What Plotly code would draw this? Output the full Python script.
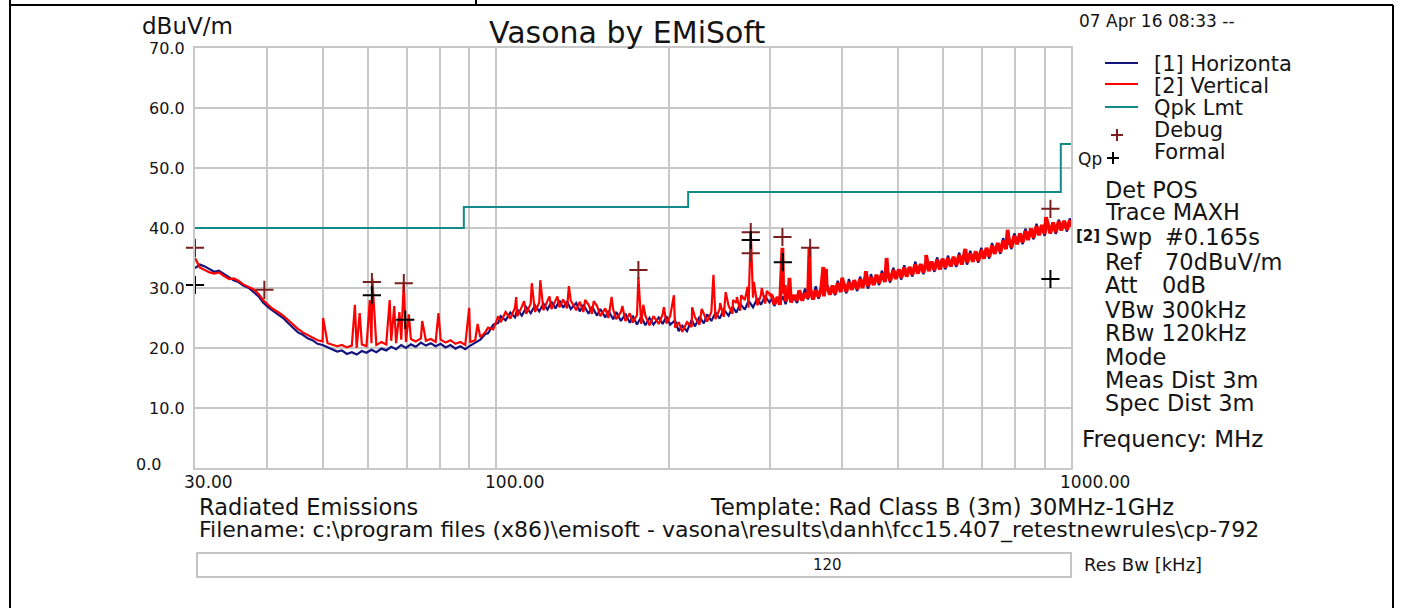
import math
import plotly.graph_objects as go

# ---------------- data ----------------
freq_low_mhz = [
    30.0, 30.6, 31.2, 31.8, 32.4, 33.0, 33.7, 34.4, 35.0, 35.7,
    36.4, 37.2, 37.9, 38.7, 39.4, 40.2, 41.0, 41.8, 42.7, 43.5,
    44.4, 45.3, 46.2, 47.1, 48.0, 49.0, 50.0, 51.0, 52.0, 53.0,
    54.0, 55.1, 56.2, 57.3, 58.5, 59.6, 60.8, 62.0, 63.3, 64.5,
    65.8, 67.1, 68.5, 69.8, 71.2, 72.6, 74.1, 75.6, 77.1, 78.6,
    80.2, 81.8, 83.4, 85.1, 86.8, 88.5, 90.3, 92.1, 94.0, 95.8,
]
horizontal_low_dbuv = [
    33.3, 33.9, 33.6, 33.1, 32.7, 32.9, 32.3, 31.8, 31.3, 31.0,
    30.4, 30.0, 29.4, 28.6, 27.6, 26.8, 26.2, 25.7, 25.0, 24.2,
    23.4, 22.6, 22.2, 21.6, 21.3, 20.7, 20.5, 20.1, 19.8, 19.4,
    19.6, 19.0, 19.3, 18.9, 19.5, 19.2, 19.7, 19.3, 19.9, 19.6,
    20.2, 19.8, 20.5, 20.0, 20.6, 20.2, 20.9, 20.4, 20.8, 20.3,
    20.7, 20.1, 20.5, 19.9, 20.3, 19.8, 20.4, 20.9, 21.4, 22.3,
]
vertical_low_dbuv = [
    35.0, 33.4, 33.0, 32.6, 32.4, 32.6, 32.0, 31.5, 31.6, 31.2,
    30.6, 30.2, 29.8, 29.0, 28.0, 27.2, 26.5, 26.0, 25.4, 24.7,
    23.9, 23.2, 22.6, 22.2, 21.8, 21.3, 21.1, 20.8, 20.6, 20.3,
    20.5, 20.1, 20.4, 20.0, 20.6, 20.3, 20.8, 20.5, 21.0, 20.6,
    21.2, 20.8, 21.4, 21.0, 21.5, 21.1, 21.6, 21.2, 21.5, 21.0,
    21.4, 20.9, 21.3, 20.7, 21.0, 20.5, 21.0, 21.3, 21.8, 22.6,
]

freq_mid_mhz = [
    97, 99, 101, 102, 104, 106, 108, 109, 111, 113,
    115, 117, 119, 121, 123, 125, 127, 129, 131, 133,
    135, 138, 140, 142, 145, 147, 150, 152, 155, 157,
    160, 162, 165, 168, 171, 173, 176, 179, 182, 185,
    188, 192, 195, 198, 201, 205, 208, 211, 215, 219,
    222, 226, 230, 233, 237, 241, 245, 249, 254, 258,
    262, 266, 271, 275, 280, 285, 289, 294, 299,
]
horizontal_mid_dbuv = [
    22.5, 23.9, 24.2, 25.3, 24.6, 25.9, 25.1, 26.4, 25.4, 26.8,
    25.8, 27.1, 26.1, 27.4, 26.4, 27.7, 26.6, 27.9, 26.7, 27.8,
    26.5, 27.5, 26.1, 27.2, 25.7, 26.9, 25.4, 26.5, 25.1, 26.2,
    24.8, 26.0, 24.5, 25.7, 24.2, 25.4, 23.9, 25.2, 23.8, 25.0,
    23.9, 25.1, 24.0, 25.3, 23.9, 24.6, 22.8, 23.7, 22.8, 24.7,
    23.6, 25.2, 24.1, 25.6, 24.5, 25.9, 24.9, 26.4, 25.4, 26.9,
    25.9, 27.4, 26.4, 27.9, 26.8, 28.3, 27.2, 28.6, 27.6,
]
vertical_mid_dbuv = [
    23.4, 23.1, 25.3, 24.3, 26.0, 24.9, 26.7, 25.3, 26.9, 25.7,
    27.4, 26.0, 27.6, 26.3, 27.9, 26.5, 28.0, 26.8, 28.1, 26.6,
    27.9, 26.3, 27.7, 26.0, 27.2, 25.7, 27.0, 25.3, 26.6, 25.0,
    26.4, 24.8, 26.0, 24.5, 25.8, 24.2, 25.5, 24.0, 25.4, 23.8,
    25.3, 24.0, 25.6, 24.1, 25.3, 23.4, 24.3, 22.7, 24.3, 23.5,
    25.1, 23.9, 25.7, 24.4, 26.0, 24.8, 26.5, 25.2, 27.0, 25.7,
    27.5, 26.2, 28.0, 26.7, 28.4, 27.1, 28.8, 27.4, 29.0,
]

freq_high_mhz = [
    302, 305, 309, 312, 316, 319, 323, 326, 330, 334,
    337, 341, 345, 349, 352, 356, 360, 364, 368, 372,
    376, 381, 385, 389, 393, 398, 402, 407, 411, 416,
    420, 425, 430, 434, 439, 444, 449, 454, 459, 464,
    469, 475, 480, 485, 491, 496, 502, 507, 513, 518,
    524, 530, 536, 542, 548, 554, 560, 566, 572, 579,
    585, 592, 598, 605, 611, 618, 625, 632, 639, 646,
    653, 660, 668, 675, 683, 690, 698, 706, 713, 721,
    729, 737, 746, 754, 762, 771, 779, 788, 797, 806,
    815, 824, 833, 842, 852, 861, 871, 880, 890, 900,
    910, 920, 931, 941, 952, 962, 973, 984, 995, 1000,
]
horizontal_high_dbuv = [
    28.2, 27.0, 28.4, 27.6, 28.6, 27.3, 29.4, 28.0, 28.4, 27.5,
    28.9, 28.4, 29.9, 28.1, 29.3, 28.5, 30.3, 28.2, 29.6, 29.0,
    30.8, 29.2, 30.1, 28.8, 31.2, 29.6, 30.5, 29.1, 31.5, 30.0,
    30.8, 29.5, 31.9, 30.4, 31.3, 29.9, 32.3, 30.9, 31.7, 30.5,
    32.9, 31.4, 32.2, 30.9, 33.4, 31.9, 32.7, 31.4, 33.8, 32.3,
    33.1, 31.9, 34.4, 32.8, 33.7, 32.3, 34.8, 33.2, 34.0, 32.7,
    35.1, 33.6, 34.5, 33.1, 35.4, 34.0, 34.8, 33.5, 35.9, 34.4,
    35.2, 33.9, 36.2, 34.9, 35.6, 34.2, 36.7, 35.3, 36.3, 34.9,
    37.5, 36.1, 37.0, 35.7, 38.3, 36.9, 37.8, 36.5, 39.1, 37.7,
    38.6, 37.3, 39.9, 38.4, 39.4, 38.1, 40.7, 39.2, 40.0, 38.7,
    41.1, 39.6, 40.4, 39.0, 41.4, 40.0, 40.8, 39.4, 41.6, 41.0,
]
vertical_high_dbuv = [
    28.7, 27.3, 28.5, 27.2, 29.1, 27.8, 29.0, 27.6, 28.8, 27.9,
    29.6, 27.9, 29.2, 28.3, 29.9, 28.1, 29.6, 28.5, 30.0, 28.6,
    30.3, 28.9, 30.4, 29.0, 30.8, 29.3, 30.9, 29.4, 31.0, 29.7,
    31.3, 29.8, 31.5, 30.0, 31.9, 30.3, 31.8, 30.5, 32.2, 30.8,
    32.4, 31.0, 32.6, 31.2, 33.0, 31.5, 33.1, 31.7, 33.4, 31.9,
    33.5, 32.2, 33.9, 32.4, 34.0, 32.6, 34.3, 32.8, 34.4, 33.0,
    34.7, 33.1, 34.9, 33.4, 35.0, 33.6, 35.2, 33.8, 35.5, 33.9,
    35.6, 34.2, 35.8, 34.4, 36.1, 34.5, 36.3, 34.9, 36.7, 35.2,
    37.1, 35.7, 37.5, 36.0, 37.9, 36.5, 38.3, 36.8, 38.7, 37.3,
    39.1, 37.6, 39.5, 38.0, 39.9, 38.4, 40.3, 38.8, 40.5, 39.0,
    40.7, 39.1, 40.9, 39.3, 41.1, 39.6, 41.2, 39.7, 41.3, 40.2,
]

# narrow emission spikes of the vertical sweep
vertical_spike_mhz = [
    50.1, 56.9, 58.0, 60.4, 61.0, 65.4, 66.6, 68.0, 69.2, 70.6, 74.5, 79.5, 89.9, 93.0,
    108.5, 112.0, 115.5, 119.5, 124.0, 128.0, 134.0, 143.0, 148.0, 159.0, 166.0, 177.0,
    180.5, 196.0, 204.0, 219.5, 228.0, 239.0, 245.5, 251.0, 258.5, 262.5, 267.0, 274.0,
    277.5, 281.0, 290.0, 296.0,
    315.0, 318.0, 324.0, 351.0, 371.0, 375.0, 400.0, 440.0, 478.0, 560.0, 655.0, 776.0, 905.0,
]
vertical_spike_dbuv = [
    25.0, 27.2, 25.8, 28.0, 31.6, 28.0, 27.0, 26.0, 31.0, 25.6, 24.5, 25.8, 26.7, 24.0,
    28.5, 27.8, 30.8, 31.3, 28.6, 28.6, 30.3, 28.0, 27.8, 28.5, 27.0, 31.8,
    27.2, 26.8, 28.8, 26.8, 26.5, 32.2, 27.5, 29.3, 28.0, 28.5, 28.8, 30.2,
    39.5, 31.0, 30.0, 29.5,
    36.7, 30.5, 31.7, 36.7, 33.5, 33.2, 31.7, 32.8, 35.0, 35.5, 36.5, 39.7, 41.8,
]

# quasi-peak limit (FCC class B, 3 m)
limit_mhz = [30, 88, 216, 960, 1000]
limit_dbuv = [40, 43.5, 46, 54, 54]

# marked peaks
debug_mhz = [30.0, 39.6, 60.9, 69.2, 177.0, 277.5, 277.5, 315.0, 352.0, 921.0]
debug_dbuv = [36.7, 29.7, 31.0, 30.8, 33.0, 39.3, 35.8, 38.5, 36.7, 43.2]
formal_mhz = [30.0, 60.9, 69.6, 277.5, 315.5, 921.0]
formal_dbuv = [30.5, 28.8, 24.7, 38.0, 34.3, 31.5]

# axes
x_grid_mhz = [30, 40, 50, 60, 70, 80, 90, 100, 200, 300, 400, 500, 600, 700, 800, 900, 1000]
x_label_mhz = [30, 100, 1000]
x_label_text = ["30.00", "100.00", "1000.00"]
y_ticks = [0, 10, 20, 30, 40, 50, 60, 70]
y_tick_text = ["0.0", "10.0", "20.0", "30.0", "40.0", "50.0", "60.0", "70.0"]

settings_labels = ["Det POS", "Trace MAXH", "Swp", "Ref", "Att", "VBw 300kHz", "RBw 120kHz",
                   "Mode", "Meas Dist 3m", "Spec Dist 3m"]
settings_values = ["", "", "#0.165s", "70dBuV/m", "0dB", "", "", "", "", ""]

# ---------------- build ----------------
freq_mhz = freq_low_mhz + freq_mid_mhz + freq_high_mhz
horizontal_dbuv = horizontal_low_dbuv + horizontal_mid_dbuv + horizontal_high_dbuv
vertical_dbuv = vertical_low_dbuv + vertical_mid_dbuv + vertical_high_dbuv
assert len(freq_mhz) == len(horizontal_dbuv) == len(vertical_dbuv), (
    len(freq_mhz), len(horizontal_dbuv), len(vertical_dbuv))
assert len(vertical_spike_mhz) == len(vertical_spike_dbuv), (
    len(vertical_spike_mhz), len(vertical_spike_dbuv))

v_pairs = sorted(zip(freq_mhz + vertical_spike_mhz, vertical_dbuv + vertical_spike_dbuv))
# the dense upper band (>= 300 MHz) is drawn with a heavier stroke
split = next(i for i, p in enumerate(v_pairs) if p[0] >= 300)
v_low = v_pairs[:split]
v_high = v_pairs[split - 1:]

W, H = 1401, 608
PL, PR, PT, PB = 195, 1071, 48, 468


def px(x):
    return (x - PL) / (PR - PL)


def py(y):
    return (PB - y) / (PB - PT)


FONT = "DejaVu Sans"
TXT = "#141414"
GRID = "#c8c8c8"
BLUE = "#14147e"
RED = "#ff0000"
TEAL = "#138a8a"
DEBUG = "#7a1e1e"

fig = go.Figure()
fig.add_trace(go.Scatter(x=freq_mhz, y=horizontal_dbuv, mode="lines",
                         line=dict(color=BLUE, width=2.2), name="[1] Horizontal"))
fig.add_trace(go.Scatter(x=[p[0] for p in v_low], y=[p[1] for p in v_low], mode="lines",
                         line=dict(color=RED, width=2.2), name="[2] Vertical"))
fig.add_trace(go.Scatter(x=[p[0] for p in v_high], y=[p[1] for p in v_high], mode="lines",
                         line=dict(color=RED, width=3.8), name="[2] Vertical"))
fig.add_trace(go.Scatter(x=limit_mhz, y=limit_dbuv, mode="lines", line_shape="hv",
                         line=dict(color=TEAL, width=2), name="Qpk Lmt"))
fig.add_trace(go.Scatter(x=debug_mhz, y=debug_dbuv, mode="markers", cliponaxis=False,
                         marker=dict(symbol="cross-thin", size=13,
                                     line=dict(width=2, color=DEBUG)), name="Debug"))
fig.add_trace(go.Scatter(x=formal_mhz, y=formal_dbuv, mode="markers", cliponaxis=False,
                         marker=dict(symbol="cross-thin", size=13,
                                     line=dict(width=2, color="#000000")), name="Formal"))

annotations = []
shapes = []


def note(text, x, y, size, anchor="left", color=TXT, family=FONT):
    annotations.append(dict(text=text, xref="paper", yref="paper", x=px(x), y=py(y),
                            xanchor=anchor, yanchor="middle", showarrow=False,
                            font=dict(family=family, size=size, color=color)))


def seg(x0, y0, x1, y1, color, width):
    shapes.append(dict(type="line", xref="paper", yref="paper",
                       x0=px(x0), y0=py(y0), x1=px(x1), y1=py(y1),
                       line=dict(color=color, width=width)))


def plus(cx, cy, color, half=6):
    seg(cx - half, cy, cx + half, cy, color, 2)
    seg(cx, cy - half, cx, cy + half, color, 2)


# title, units, date
note("Vasona by EMiSoft", 487, 33, 30)
note("dBuV/m", 140, 26, 23)
note("07 Apr 16 08:33 --", 1077, 21, 17)

# y tick labels
for v, t in zip(y_ticks, y_tick_text):
    xr = 163 if v == 0 else 187
    annotations.append(dict(text=t, xref="paper", yref="y", x=px(xr), y=v,
                            yshift=4 if v == 0 else 0,
                            xanchor="right", yanchor="middle", showarrow=False,
                            font=dict(family=FONT, size=16, color=TXT)))
# x tick labels
for v, t in zip(x_label_mhz, x_label_text):
    annotations.append(dict(text=t, xref="x", yref="paper", x=math.log10(v), y=py(482),
                            xshift=-13, xanchor="left", yanchor="middle", showarrow=False,
                            font=dict(family=FONT, size=17, color=TXT)))

# legend
seg(1105, 63, 1138, 63, BLUE, 2)
seg(1105, 84, 1138, 84, RED, 2)
seg(1105, 107, 1138, 107, TEAL, 2)
plus(1117, 135, DEBUG)
plus(1113, 158, "#000000")
note("[1] Horizonta", 1152, 64, 21)
note("[2] Vertical", 1152, 86, 21)
note("Qpk Lmt", 1152, 108, 21)
note("Debug", 1152, 130, 21)
note("Formal", 1152, 152, 21)
note("Qp", 1076, 159, 17)

# settings panel
settings_y = [190, 212, 237, 262, 285, 310, 333, 357, 380, 403]
for lab, val, yy in zip(settings_labels, settings_values, settings_y):
    note(lab, 1103, yy, 22.5)
    if val:
        note(val, 1163 if lab != "Att" else 1160, yy, 22.5)
note("<b>[2]</b>", 1074, 236, 15)
note("Frequency: MHz", 1080, 439, 23)

# bottom texts
note("Radiated Emissions", 197, 507, 22.5)
note("Template: Rad Class B (3m) 30MHz-1GHz", 708, 507, 22.5)
note("Filename: c:\\program files (x86)\\emisoft - vasona\\results\\danh\\fcc15.407_retestnewrules\\cp-792",
     197, 530, 22)
shapes.append(dict(type="rect", xref="paper", yref="paper", x0=px(197), x1=px(1071),
                   y0=py(553), y1=py(577), line=dict(color="#c4c4c4", width=2)))
note("120", 827, 565, 15, anchor="center")
note("Res Bw [kHz]", 1082, 564, 18)

# page frame
seg(10, 5, 1393, 5, "#000000", 2)
seg(10, 0, 10, 608, "#000000", 2)
seg(1393, 5, 1393, 608, "#000000", 2)
seg(476, 0, 476, 5, "#000000", 2)

fig.update_layout(
    width=W, height=H, autosize=False,
    margin=dict(l=PL, r=W - PR, t=PT, b=H - PB, pad=0),
    paper_bgcolor="white", plot_bgcolor="white",
    showlegend=False,
    xaxis=dict(type="log", range=[math.log10(30), math.log10(1000)],
               tickvals=x_grid_mhz, showticklabels=False, ticks="",
               showgrid=True, gridcolor=GRID, gridwidth=2,
               showline=True, linecolor=GRID, linewidth=2, mirror=True, zeroline=False),
    yaxis=dict(range=[0, 70], tickvals=y_ticks, showticklabels=False, ticks="",
               showgrid=True, gridcolor=GRID, gridwidth=2,
               showline=True, linecolor=GRID, linewidth=2, mirror=True, zeroline=False),
    annotations=annotations,
    shapes=shapes,
)

fig.write_html(
    "out.html",
    config={"displayModeBar": False},
    post_script="document.body.style.margin='0px';document.body.style.overflow='hidden';",
)
